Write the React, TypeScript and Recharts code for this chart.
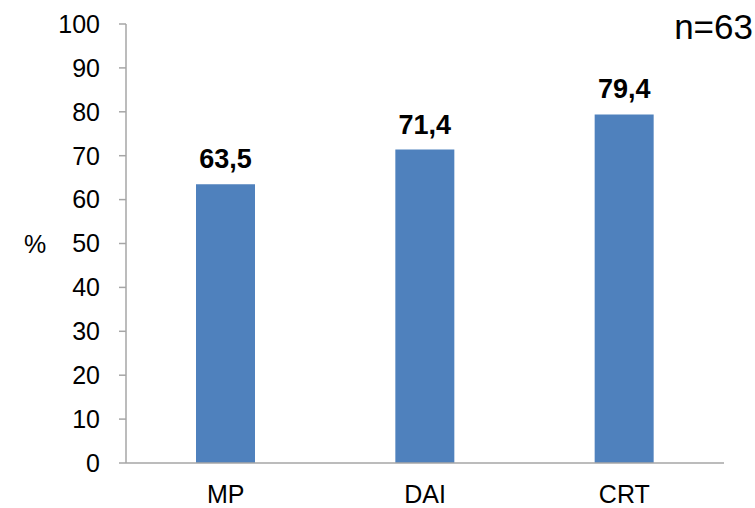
import { BarChart, Bar, XAxis, YAxis, LabelList } from "recharts";

const categories = ["MP", "DAI", "CRT"];
const values = [63.5, 71.4, 79.4];
const yTicks = [0, 10, 20, 30, 40, 50, 60, 70, 80, 90, 100];
const boundaryTicks = [0, 1, 2, 3];

const data = categories.map((name, i) => ({ name, value: values[i], pos: i + 0.5 }));

const FONT = "'Liberation Sans', Arial, sans-serif";
const AXIS = "#A6A6A6";
const BAR = "#4F81BD";

export default function App() {
  return (
    <div style={{ position: "absolute", left: 0, top: 0, width: 755, height: 508, background: "#fff", fontFamily: FONT }}>
      <BarChart
        width={755}
        height={508}
        data={data}
        margin={{ top: 24, right: 31, left: 0, bottom: 0 }}
      >
        <XAxis
          dataKey="name"
          height={45}
          tickLine={false}
          tickSize={9}
          tickMargin={13}
          axisLine={{ stroke: AXIS, strokeWidth: 1.5 }}
          tick={{ fill: "#000", fontSize: 25, fontFamily: FONT }}
        />
        <XAxis
          xAxisId="bounds"
          type="number"
          dataKey="pos"
          domain={[0, 3]}
          ticks={boundaryTicks}
          axisLine={false}
          tick={false}
          tickSize={8}
          tickLine={{ stroke: AXIS, strokeWidth: 1.5 }}
          height={0}
        />
        <YAxis
          width={126}
          domain={[0, 100]}
          ticks={yTicks}
          interval={0}
          tickSize={7}
          tickMargin={19}
          axisLine={{ stroke: AXIS, strokeWidth: 1.5 }}
          tickLine={{ stroke: AXIS, strokeWidth: 1.5 }}
          tick={{ fill: "#000", fontSize: 25, fontFamily: FONT }}
        />
        <Bar dataKey="value" fill={BAR} barSize={59} isAnimationActive={false}>
          <LabelList
            dataKey="value"
            position="top"
            offset={16}
            formatter={(v: any) => String(v).replace(".", ",")}
            style={{ fill: "#000", fontSize: 27, fontWeight: "bold", fontFamily: FONT }}
          />
        </Bar>
      </BarChart>
      <div style={{ position: "absolute", left: 24, top: 230, fontSize: 25, color: "#000" }}>%</div>
      <div style={{ position: "absolute", right: 2, top: 8, fontSize: 35, color: "#000", lineHeight: "38px" }}>n=63</div>
    </div>
  );
}
